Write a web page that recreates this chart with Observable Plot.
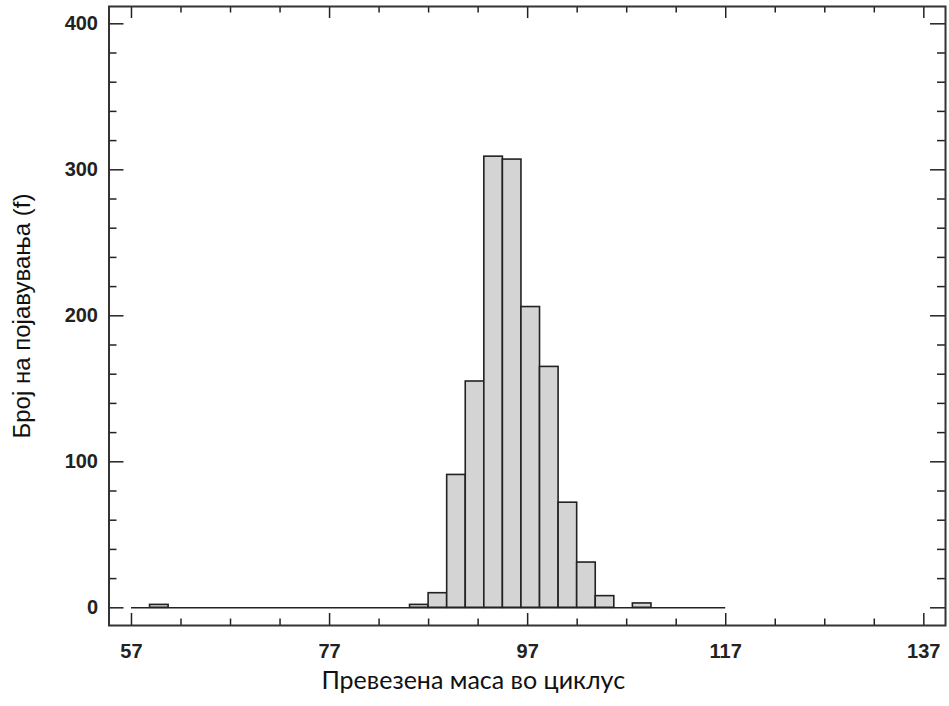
<!DOCTYPE html>
<html>
<head>
<meta charset="utf-8">
<script src="https://cdn.jsdelivr.net/npm/d3@7"></script>
<script src="https://cdn.jsdelivr.net/npm/@observablehq/plot@0.6"></script>
<style>
  html, body { margin: 0; padding: 0; background: #fff; }
</style>
</head>
<body>
<script>
// ---- data ----
const binStart = 57;
const binEnd = 117;
const binCount = 32;
const counts = [0, 2, 0, 0, 0, 0, 0, 0, 0, 0, 0, 0, 0, 0, 0, 2,
                10, 91, 155, 309, 307, 206, 165, 72, 31, 8, 0, 3, 0, 0, 0, 0];
const xMajorTicks = [57, 77, 97, 117, 137];
const xMinorTicks = [62, 67, 72, 82, 87, 92, 102, 107, 112, 122, 127, 132];
const yMajorTicks = [0, 100, 200, 300, 400];
const yMinorTicks = [20, 40, 60, 80, 120, 140, 160, 180, 220, 240, 260, 280, 320, 340, 360, 380];
const xTitle = "Превезена маса во циклус";
const yTitle = "Број на појавувања (f)";

const binWidth = (binEnd - binStart) / binCount;
const bins = counts.map((c, i) => ({x0: binStart + i * binWidth, x1: binStart + (i + 1) * binWidth, count: c}))
  .filter(d => d.count > 0);

const W = 949, H = 706;
const mL = 108.5, mR = 4, mT = 6, mB = 81;
const fw = W - mL - mR, fh = H - mT - mB;
const ink = "#222";

const chart = Plot.plot({
  width: W, height: H,
  marginLeft: mL, marginRight: mR, marginTop: mT, marginBottom: mB,
  style: {fontFamily: "'Liberation Sans', Arial, sans-serif", background: "#fff", color: ink},
  x: {domain: [54.73, 139.19], axis: null},
  y: {domain: [-12.12, 411.85], axis: null},
  marks: [
    Plot.rect(bins, {x1: "x0", x2: "x1", y1: 0, y2: "count", fill: "#d4d4d4", stroke: ink, strokeWidth: 1.6}),
    Plot.ruleY([0], {x1: binStart, x2: binEnd, stroke: ink, strokeWidth: 1.6}),
    // bottom & top ticks
    Plot.tickX(xMajorTicks, {x: d => d, insetTop: fh - 12, stroke: ink, strokeWidth: 1.5}),
    Plot.tickX(xMajorTicks, {x: d => d, insetBottom: fh - 12, stroke: ink, strokeWidth: 1.5}),
    Plot.tickX(xMinorTicks, {x: d => d, insetTop: fh - 6.5, stroke: ink, strokeWidth: 1.5}),
    Plot.tickX(xMinorTicks, {x: d => d, insetBottom: fh - 6.5, stroke: ink, strokeWidth: 1.5}),
    // left & right ticks
    Plot.tickY(yMajorTicks, {y: d => d, insetRight: fw - 15, stroke: ink, strokeWidth: 1.5}),
    Plot.tickY(yMajorTicks, {y: d => d, insetLeft: fw - 15, stroke: ink, strokeWidth: 1.5}),
    Plot.tickY(yMinorTicks, {y: d => d, insetRight: fw - 8, stroke: ink, strokeWidth: 1.5}),
    Plot.tickY(yMinorTicks, {y: d => d, insetLeft: fw - 8, stroke: ink, strokeWidth: 1.5}),
    Plot.frame({stroke: "#333", strokeWidth: 2}),
    Plot.axisX({ticks: xMajorTicks, tickSize: 0, tickPadding: 18, fontSize: 20, fontWeight: "bold", letterSpacing: 1, label: null, tickFormat: d => String(d), fill: ink}),
    Plot.axisY({ticks: yMajorTicks, tickSize: 0, tickPadding: 11, fontSize: 20, fontWeight: "bold", letterSpacing: 1, label: null, tickFormat: d => String(d), fill: ink}),
    Plot.text([xTitle], {frameAnchor: "bottom", textAnchor: "middle", lineAnchor: "middle", dx: -54, dy: 55, fontFamily: "Lato", fontSize: 25, letterSpacing: 0.5, fill: "#111"}),
    Plot.text([yTitle], {frameAnchor: "left", textAnchor: "middle", lineAnchor: "middle", rotate: -90, dx: -86.5, dy: 0, fontFamily: "'Liberation Sans', Arial, sans-serif", fontSize: 24, letterSpacing: 2.3, fill: "#111"})
  ]
});
document.body.appendChild(chart);
</script>
</body>
</html>
